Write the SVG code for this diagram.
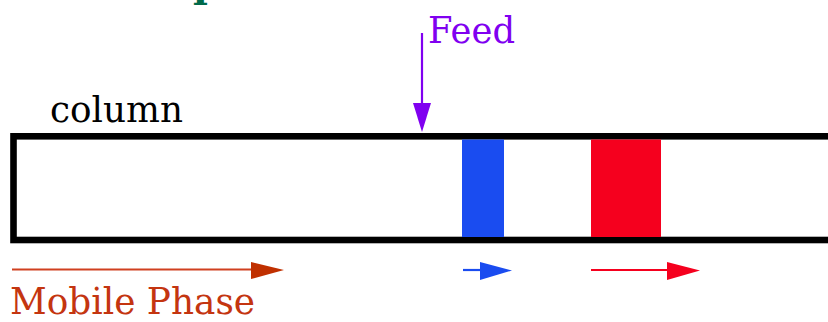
<svg xmlns="http://www.w3.org/2000/svg" width="828" height="322" viewBox="0 0 828 322">
<style>
.lbl{font-family:'DejaVu Serif','Liberation Serif',serif}
.conn line{stroke-width:2.2}
</style>
<rect width="828" height="322" fill="#ffffff"/>
<g id="title-fragment"><text class="lbl" x="193" y="-3" font-size="40" font-weight="bold" fill="#006a4a">p</text></g>
<g id="column">
<rect x="13.5" y="136.3" width="830" height="103.7" fill="none" stroke="#000" stroke-width="6.6"/>
<text class="lbl" x="50" y="122" font-size="35" fill="#000" textLength="133" lengthAdjust="spacingAndGlyphs">column</text>
</g>
<g id="blue-band"><rect x="462" y="139.5" width="42" height="97.5" fill="#1a4cf0"/></g>
<g id="red-band"><rect x="591" y="139.5" width="70" height="97.5" fill="#f5001e"/></g>
<g id="feed"><text class="lbl" x="428" y="43" font-size="38" fill="#8000f0" textLength="87" lengthAdjust="spacingAndGlyphs">Feed</text></g>
<g id="mobile-phase"><text class="lbl" x="10" y="314" font-size="37" fill="#c43510" textLength="245" lengthAdjust="spacingAndGlyphs">Mobile Phase</text></g>
<g id="connectors" class="conn">
<line x1="422" y1="33" x2="422" y2="104" stroke="#8000f0"/>
<polygon points="413,103 431,103 422,132" fill="#8000f0"/>
<line x1="12" y1="269.5" x2="252" y2="269.5" stroke="#d04020"/>
<polygon points="251,262 284,270 251,279" fill="#c03000"/>
<line x1="463" y1="270" x2="481" y2="270" stroke="#1a4cf0"/>
<polygon points="480,262 512,270.5 480,280" fill="#1a4cf0"/>
<line x1="591" y1="270" x2="668" y2="270" stroke="#f5001e"/>
<polygon points="667,262 700,270.5 667,280" fill="#f5001e"/>
</g>
</svg>
